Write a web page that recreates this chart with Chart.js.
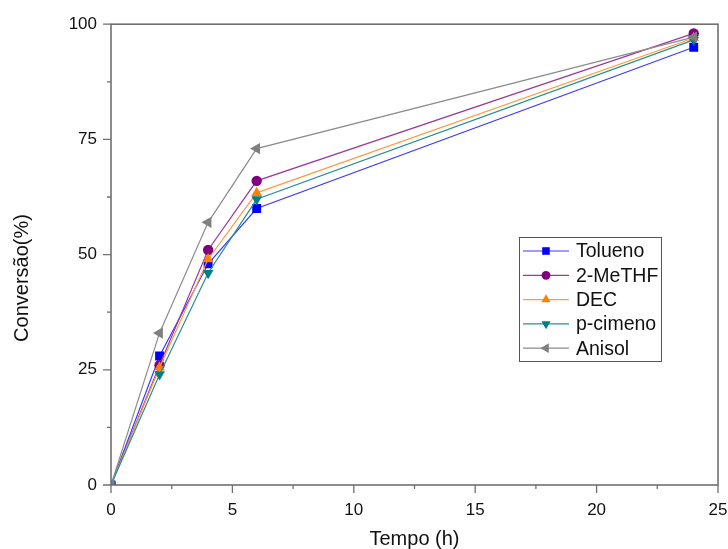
<!DOCTYPE html>
<html>
<head>
<meta charset="utf-8">
<title>Conversão vs tempo</title>
<script src="https://cdn.jsdelivr.net/npm/chart.js@4/dist/chart.umd.min.js"></script>
<style>
    html, body { margin: 0; padding: 0; background: #fff; }
    #wrap { width: 728px; height: 549px; }
</style>
</head>
<body>
<div id="wrap"><canvas id="chart" width="728" height="549"></canvas></div>
<script>
// tempo de reação (h)
const tempos = [0, 2, 4, 6, 24];

// conversão (%) por solvente
const tolueno = [0, 28, 48, 60, 95];
const meTHF = [0, 26, 51, 66, 98];
const dec = [0, 25.5, 49, 63.4, 97];
const pCimeno = [0, 24, 46, 62, 96.6];
const anisol = [0, 33, 57, 73, 97.2];

const xTicks = [0, 5, 10, 15, 20, 25];
const yTicks = [0, 25, 50, 75, 100];

const FONT = "'Liberation Sans', Arial, sans-serif";
const AXIS_COLOR = '#707070';

function pts(vals) {
    return tempos.map((t, i) => ({ x: t, y: vals[i] }));
}

function serie(label, vals, color, lineColor, style, rotation, radius, order) {
    return {
        label: label,
        data: pts(vals),
        borderColor: lineColor,
        backgroundColor: color,
        borderWidth: 1.2,
        pointStyle: style,
        pointRotation: rotation,
        pointRadius: radius,
        pointHoverRadius: radius,
        pointBackgroundColor: color,
        pointBorderColor: color,
        pointBorderWidth: 0,
        tension: 0,
        order: order
    };
}

const datasets = [
    serie('Tolueno', tolueno, '#0000ff', '#3b3bff', 'rect', 0, 6.3, 5),
    serie('2-MeTHF', meTHF, '#800080', '#9a3a9a', 'circle', 0, 5.2, 4),
    serie('DEC', dec, '#ff8000', '#ff9a45', 'triangle', 0, 6.2, 3),
    serie('p-cimeno', pCimeno, '#008080', '#2a8f8f', 'triangle', 180, 6.2, 2),
    serie('Anisol', anisol, '#808080', '#8c8c8c', 'triangle', -90, 6.6, 1)
];

function marker(ctx, ds, x, y) {
    ctx.save();
    ctx.fillStyle = ds.pointBackgroundColor;
    ctx.strokeStyle = ds.pointBorderColor;
    if (Chart.helpers && Chart.helpers.drawPoint) {
        Chart.helpers.drawPoint(ctx, {
            pointStyle: ds.pointStyle,
            rotation: ds.pointRotation,
            radius: ds.pointRadius * 0.85,
            borderWidth: 0
        }, x, y);
    } else {
        ctx.beginPath();
        ctx.arc(x, y, ds.pointRadius * 0.85, 0, Math.PI * 2);
        ctx.fill();
    }
    ctx.restore();
}

// moldura, marcas dos eixos, título do eixo y e legenda
const framePlugin = {
    id: 'frame',
    afterDraw(chart) {
        const ctx = chart.ctx;
        const a = chart.chartArea;
        const xs = chart.scales.x;
        const ys = chart.scales.y;

        ctx.save();
        ctx.strokeStyle = AXIS_COLOR;
        ctx.lineWidth = 1.6;
        ctx.strokeRect(a.left, a.top, a.right - a.left, a.bottom - a.top);

        ctx.lineWidth = 1.3;
        ctx.beginPath();
        for (let i = 0; i < xTicks.length; i++) {
            const px = xs.getPixelForValue(xTicks[i]);
            ctx.moveTo(px, a.bottom);
            ctx.lineTo(px, a.bottom + 8);
            if (i < xTicks.length - 1) {
                const pm = xs.getPixelForValue((xTicks[i] + xTicks[i + 1]) / 2);
                ctx.moveTo(pm, a.bottom);
                ctx.lineTo(pm, a.bottom + 4);
            }
        }
        for (let i = 0; i < yTicks.length; i++) {
            const py = ys.getPixelForValue(yTicks[i]);
            ctx.moveTo(a.left, py);
            ctx.lineTo(a.left - 8, py);
            if (i < yTicks.length - 1) {
                const pm = ys.getPixelForValue((yTicks[i] + yTicks[i + 1]) / 2);
                ctx.moveTo(a.left, pm);
                ctx.lineTo(a.left - 4, pm);
            }
        }
        ctx.stroke();

        // título do eixo y
        ctx.fillStyle = '#111';
        ctx.font = '20px ' + FONT;
        ctx.textAlign = 'center';
        ctx.textBaseline = 'middle';
        ctx.translate(22, 278);
        ctx.rotate(-Math.PI / 2);
        ctx.fillText('Conversão(%)', 0, 0);
        ctx.restore();

        // legenda
        ctx.save();
        ctx.strokeStyle = '#555';
        ctx.lineWidth = 1;
        ctx.strokeRect(519.5, 237.5, 142, 124);
        ctx.font = '19.5px ' + FONT;
        ctx.textBaseline = 'middle';
        ctx.textAlign = 'left';
        datasets.forEach((ds, i) => {
            const y = 251 + i * 24.3;
            ctx.strokeStyle = ds.borderColor;
            ctx.lineWidth = 1.2;
            ctx.beginPath();
            ctx.moveTo(523, y);
            ctx.lineTo(569, y);
            ctx.stroke();
            marker(ctx, ds, 546, y);
            ctx.fillStyle = '#111';
            ctx.fillText(ds.label, 576, y + 1);
        });
        ctx.restore();
    }
};

new Chart(document.getElementById('chart'), {
    type: 'line',
    data: { datasets: datasets },
    options: {
        responsive: false,
        animation: false,
        devicePixelRatio: 1,
        layout: { padding: { left: 0, top: 22, right: 0, bottom: 0 } },
        plugins: {
            legend: { display: false },
            tooltip: { enabled: false }
        },
        scales: {
            x: {
                type: 'linear',
                min: 0,
                max: 25,
                grid: { display: false, drawTicks: false },
                border: { display: false },
                afterBuildTicks: (s) => { s.ticks = xTicks.map(v => ({ value: v })); },
                ticks: {
                    padding: 15,
                    color: '#111',
                    font: { family: FONT, size: 17 }
                },
                title: {
                    display: true,
                    text: 'Tempo (h)',
                    color: '#111',
                    font: { family: FONT, size: 20 },
                    padding: { top: 7, bottom: -2 }
                },
                afterFit: (s) => {
                    s.height = 64;
                    s.paddingLeft = 0;
                    s.paddingRight = 10;
                }
            },
            y: {
                type: 'linear',
                min: 0,
                max: 100,
                grid: { display: false, drawTicks: false },
                border: { display: false },
                afterBuildTicks: (s) => { s.ticks = yTicks.map(v => ({ value: v })); },
                ticks: {
                    padding: 14,
                    color: '#111',
                    font: { family: FONT, size: 17 }
                },
                afterFit: (s) => { s.width = 111; }
            }
        }
    },
    plugins: [framePlugin]
});
</script>
</body>
</html>
